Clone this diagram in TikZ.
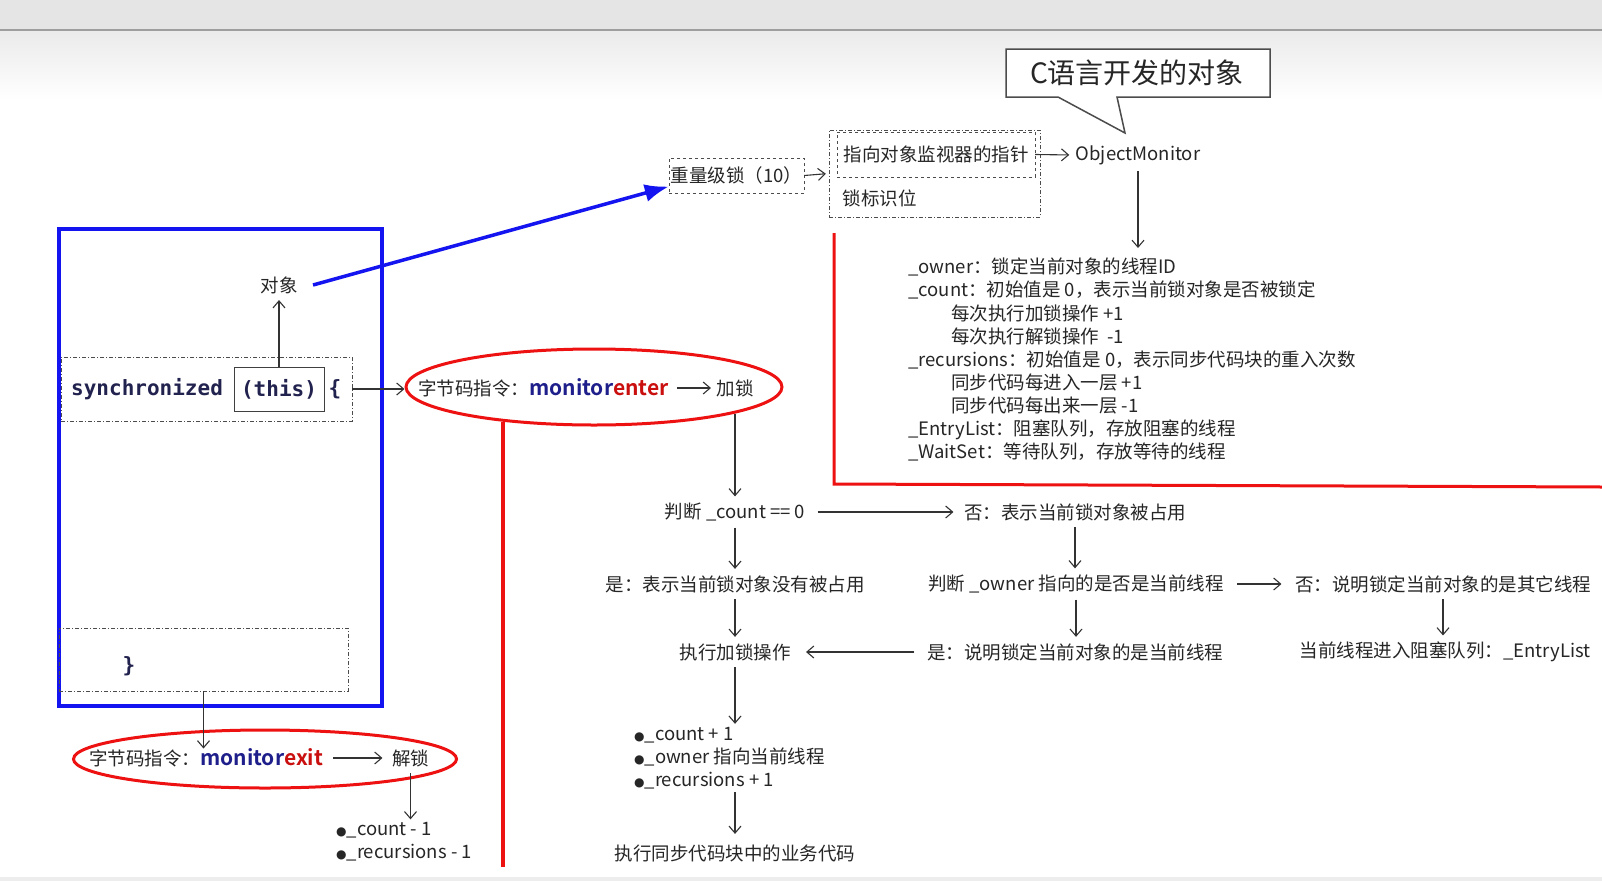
\documentclass[tikz,border=0pt]{standalone}
\usepackage{fontspec}
\setmainfont{Noto Sans CJK SC}[BoldFont={Noto Sans CJK SC Bold}]
\newfontfamily\codefont{DejaVu Sans Mono}
\newfontfamily\symfont{DejaVu Sans}
\usetikzlibrary{shapes.geometric,arrows.meta}
\definecolor{navy}{HTML}{1F1F8C}
\definecolor{codeblue}{HTML}{22224F}
\definecolor{markred}{HTML}{EE1111}
\definecolor{frameblue}{HTML}{1414F0}
\newcommand{\mon}[1]{{\fontsize{21}{25}\selectfont\bfseries\textcolor{navy}{monitor}\textcolor{markred!85!black}{#1}}}
\newcommand{\dotmark}{{\symfont\fontsize{12}{12}\selectfont ●}}

\begin{document}
\begin{tikzpicture}[x=1pt, y=-1pt,
    txt/.style={font=\fontsize{18.5}{23.1}\selectfont, text=black!85},
    code/.style={font=\codefont\bfseries\fontsize{21}{25}\selectfont, text=codeblue},
    flow/.style={-{Straight Barb[length=7pt, width=12pt]}, line width=1.1pt, black!80, shorten <=3pt, shorten >=3pt},
    ring/.style={ellipse, draw=markred, line width=3pt},
    dashdot/.style={draw=black!70, dash pattern=on 4pt off 2pt on 1pt off 2pt}]
    % screen background
    \fill[white] (0,0) rectangle (1602,881);
    \useasboundingbox (0,0) rectangle (1602,881);
    \fill[black!10] (0,0) rectangle (1602,29);
    \draw[black!38, line width=2pt] (0,30) -- (1602,30);
    \shade[top color=black!8, bottom color=white] (0,31) rectangle (1602,100);
    \fill[black!7] (0,877) rectangle (1602,881);

    % code block
    \draw[frameblue, line width=3.5pt] (59,229) rectangle (382,706);
    \node[dashdot, minimum width=291pt, minimum height=64pt] (syncbox) at (206.5,389) {};
    \node[code, anchor=west, inner sep=0] (syncword) at (71,389) {synchronized};
    \node[code, draw=black!75, thick, minimum width=90pt, minimum height=44pt] (this) at (279,389) {(this)};
    \node[code] (brace) at (335,389) {\{};
    \node[dashdot, minimum width=289pt, minimum height=63pt] (endbox) at (203.5,659.5) {};
    \node[code] (endbrace) at (129,666) {\}};
    \node[txt] (obj) at (279,285) {对象};
    \draw[flow, shorten <=0pt] (this.north) -- (obj.south);

    % object header
    \node[txt, draw=black!70, dashed, minimum width=135pt, minimum height=35pt, inner sep=1pt] (heavy) at (736.5,175.5) {重量级锁（10）};
    \draw[-{Latex[length=24pt, width=18pt]}, frameblue, line width=3.5pt] ([xshift=12pt]obj.east) -- ([yshift=-11pt]heavy.west);
    \node[dashdot, minimum width=211pt, minimum height=87pt] (mark) at (934.5,173.5) {};
    \node[txt, draw=black!70, dashed, minimum width=198pt, minimum height=45pt, inner sep=1pt] (ptr) at (936,154.5) {指向对象监视器的指针};
    \node[txt, anchor=west] (bits) at (839,198) {锁标识位};
    \draw[flow, shorten <=0pt] (heavy.east) -- (mark.west);
    \node[txt] (monitor) at (1138,155) {ObjectMonitor};
    \draw[flow, shorten <=0pt] (ptr.east) -- (monitor.west);

    % callout
    \draw[black!70, line width=1.5pt, fill=white] (1006,49) -- (1270,49) -- (1270,97) -- (1117,97)
        -- (1125,133) -- (1058,97) -- (1006,97) -- cycle;
    \node[font=\fontsize{28}{32}\selectfont, text=black!85] (cnote) at (1137,73) {C语言开发的对象};

    % monitor fields
    \node[txt, anchor=north west, align=left, inner sep=0] (fields) at (908,258) {\_owner：锁定当前对象的线程ID\\
        \_count：初始值是 0，表示当前锁对象是否被锁定\\
        \hspace*{43pt}每次执行加锁操作 +1\\
        \hspace*{43pt}每次执行解锁操作\ \ -1\\
        \_recursions：初始值是 0，表示同步代码块的重入次数\\
        \hspace*{43pt}同步代码每进入一层 +1\\
        \hspace*{43pt}同步代码每出来一层 -1\\
        \_EntryList：阻塞队列，存放阻塞的线程\\
        \_WaitSet：等待队列，存放等待的线程};
    \draw[flow, shorten >=10pt] (monitor.south) -- (monitor.south |- fields.north);
    \draw[markred, line width=3pt] (834,233) -- (834,484) -- (1602,487);

    % monitorenter
    \node[ring, minimum width=376pt, minimum height=76pt] (enterring) at (594,387) {};
    \node[txt, anchor=west, inner sep=0] (entercmd) at (418,388) {字节码指令：\mon{enter}};
    \node[txt] (lock) at (735,388) {加锁};
    \draw[flow, shorten <=8pt, shorten >=2pt] (entercmd.east) -- (lock.west);
    \draw[flow, shorten <=0pt, shorten >=0pt] (syncbox.east) -- (syncbox.east -| enterring.west);
    \draw[markred, line width=3.5pt] (503,422) -- (503,867);

    % lock flow
    \node[txt] (judge) at (735,512) {判断 \_count == 0};
    \node[txt] (busy) at (1075,512) {否：表示当前锁对象被占用};
    \node[txt] (free) at (735,584) {是：表示当前锁对象没有被占用};
    \node[txt] (owner) at (1076,584) {判断 \_owner 指向的是否是当前线程};
    \node[txt] (other) at (1443,584) {否：说明锁定当前对象的是其它线程};
    \node[txt] (dolock) at (735,652) {执行加锁操作};
    \node[txt] (self) at (1075,652) {是：说明锁定当前对象的是当前线程};
    \node[txt] (entry) at (1445,652) {当前线程进入阻塞队列：\_EntryList};
    \node[txt, anchor=west, align=left, inner sep=0] (incr) at (634,758) {\dotmark\_count + 1\\
        \dotmark\_owner 指向当前线程\\
        \dotmark\_recursions + 1};
    \node[txt] (run) at (735,853) {执行同步代码块中的业务代码};
    \draw[flow, shorten <=14pt] (lock.south) -- (judge.north);
    \draw[flow, shorten <=9pt, shorten >=7pt] (judge.east) -- (busy.west);
    \draw[flow] (judge.south) -- (judge.south |- free.north);
    \draw[flow] (busy.south) -- (busy.south |- owner.north);
    \draw[flow, shorten <=10pt, shorten >=10pt] (owner.east) -- (other.west);
    \draw[flow] (free.south) -- (free.south |- dolock.north);
    \draw[flow] (owner.south) -- (owner.south |- self.north);
    \draw[flow] (other.south) -- (other.south |- entry.north);
    \draw[flow, shorten <=9pt, shorten >=12pt] (self.west) -- (dolock.east);
    \draw[flow] (dolock.south) -- (dolock.south |- incr.north);
    \draw[flow, shorten >=7pt] (dolock.south |- incr.south) -- (run.north);

    % monitorexit
    \node[ring, minimum width=383pt, minimum height=58pt] (exitring) at (265,759) {};
    \node[txt, anchor=west, inner sep=0] (exitcmd) at (89,758) {字节码指令：\mon{exit}};
    \node[txt] (unlock) at (410.5,758) {解锁};
    \draw[flow, shorten <=10pt, shorten >=6pt] (exitcmd.east) -- (unlock.west);
    \draw[flow, shorten <=0pt, shorten >=0pt] (endbox.south) -- (endbox.south |- exitcmd.north);
    \node[txt, anchor=west, align=left, inner sep=0] (dec) at (336,842) {\dotmark\_count - 1\\
        \dotmark\_recursions - 1};
    \draw[flow] (unlock.south) -- (unlock.south |- dec.north);
\end{tikzpicture}
\end{document}
